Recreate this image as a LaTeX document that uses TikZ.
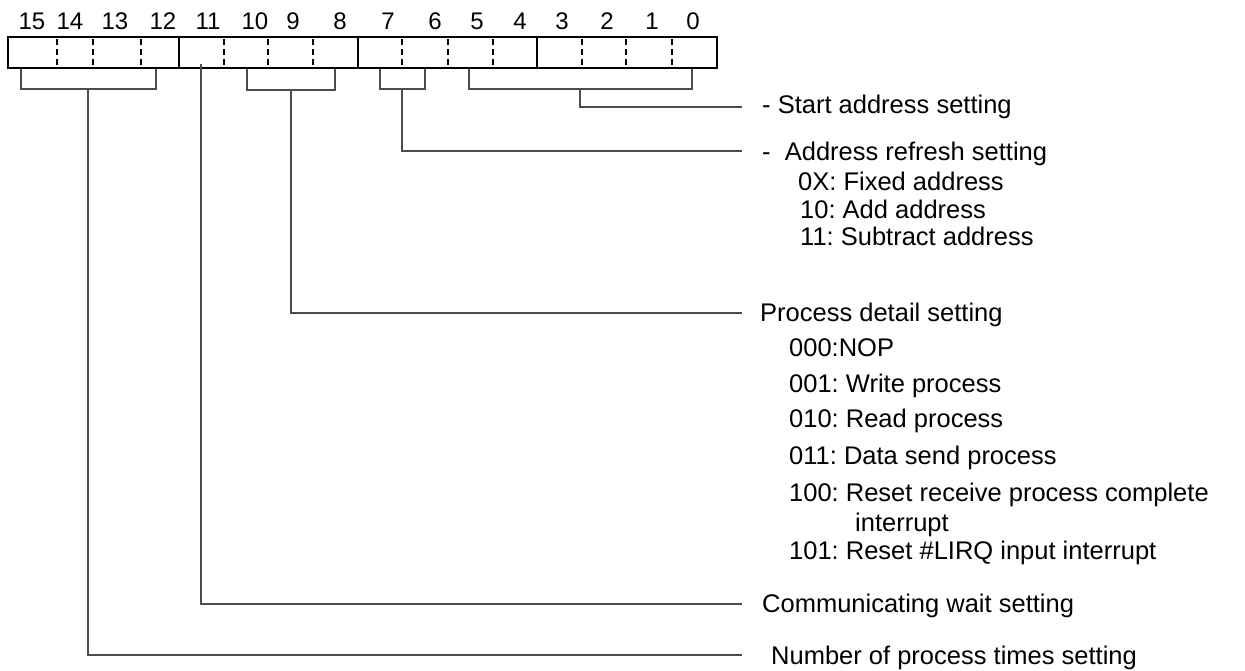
\documentclass[tikz,border=0pt]{standalone}
\usepackage{fontspec}
\setmainfont{Liberation Sans}
\begin{document}
\frenchspacing
\begin{tikzpicture}[x=1pt,y=-1pt,
  lbl/.style={anchor=base west,inner sep=0pt,font=\fontsize{25.5}{30}\selectfont},
  bitnum/.style={anchor=base,inner sep=0pt,font=\fontsize{24}{29}\selectfont},
  regbox/.style={line width=2.5pt,black},
  soliddiv/.style={line width=2pt,black},
  dashdiv/.style={line width=1.5pt,black,dash pattern=on 6pt off 4pt},
  conn/.style={line width=1.5pt,black!70}]
\useasboundingbox (0,0) rectangle (1245,671);
% bit numbers
\foreach \x/\n in {32/15,70/14,115/13,163/12,208/11,255/10,293/9,340/8,388/7,435/6,477/5,520/4,562/3,607/2,652/1,693/0}
  \node[bitnum] (b\n) at (\x,30) {\n};
% register
\draw[regbox] (8,37) rectangle (717,68);
\foreach \x in {179,358,537} \draw[soliddiv] (\x,37) -- (\x,68);
\foreach \x in {57,93,141,224,268,313,402,448,493,582,626,672} \draw[dashdiv] (\x,39) -- (\x,67);
% labels
\node[lbl] (start) at (762,114) {- Start address setting};
\node[lbl] (refr) at (762,161) {-\ \ Address refresh setting};
\node[lbl] (r0) at (798,191) {0X: Fixed address};
\node[lbl] (r1) at (800,219) {10: Add address};
\node[lbl] (r2) at (800,246) {11: Subtract address};
\node[lbl] (proc) at (760,321) {Process detail setting};
\node[lbl] (p0) at (789,356) {000:NOP};
\node[lbl] (p1) at (789,392) {001: Write process};
\node[lbl] (p2) at (789,427) {010: Read process};
\node[lbl] (p3) at (789,464) {011: Data send process};
\node[lbl] (p4) at (789,501) {100: Reset receive process complete};
\node[lbl] (p4b) at (855,531.5) {interrupt};
\node[lbl] (p5) at (789,559) {101: Reset \#LIRQ input interrupt};
\node[lbl] (comm) at (762,612) {Communicating wait setting};
\node[lbl] (numb) at (771,664) {Number of process times setting};
% bracket coordinates
\coordinate (s15) at (88,89);
\coordinate (s11) at (201,64);
\coordinate (s10) at (291,90);
\coordinate (s7) at (402,89);
\coordinate (s5) at (580,89);
\coordinate (eStart) at (742,107);
\coordinate (eRefr) at (742,151);
\coordinate (eProc) at (742,313);
\coordinate (eComm) at (742,604);
\coordinate (eNumb) at (742,655);
% brackets
\draw[conn] (21,69) -- (21,89) -- (156,89) -- (156,69);
\draw[conn] (247,69) -- (247,90) -- (335,90) -- (335,69);
\draw[conn] (380,69) -- (380,89) -- (425,89) -- (425,69);
\draw[conn] (469,69) -- (469,89) -- (692,89) -- (692,69);
% connectors
\draw[conn] (s5) |- (eStart);
\draw[conn] (s7) |- (eRefr);
\draw[conn] (s10) |- (eProc);
\draw[conn] (s11) |- (eComm);
\draw[conn] (s15) |- (eNumb);
\end{tikzpicture}
\end{document}
